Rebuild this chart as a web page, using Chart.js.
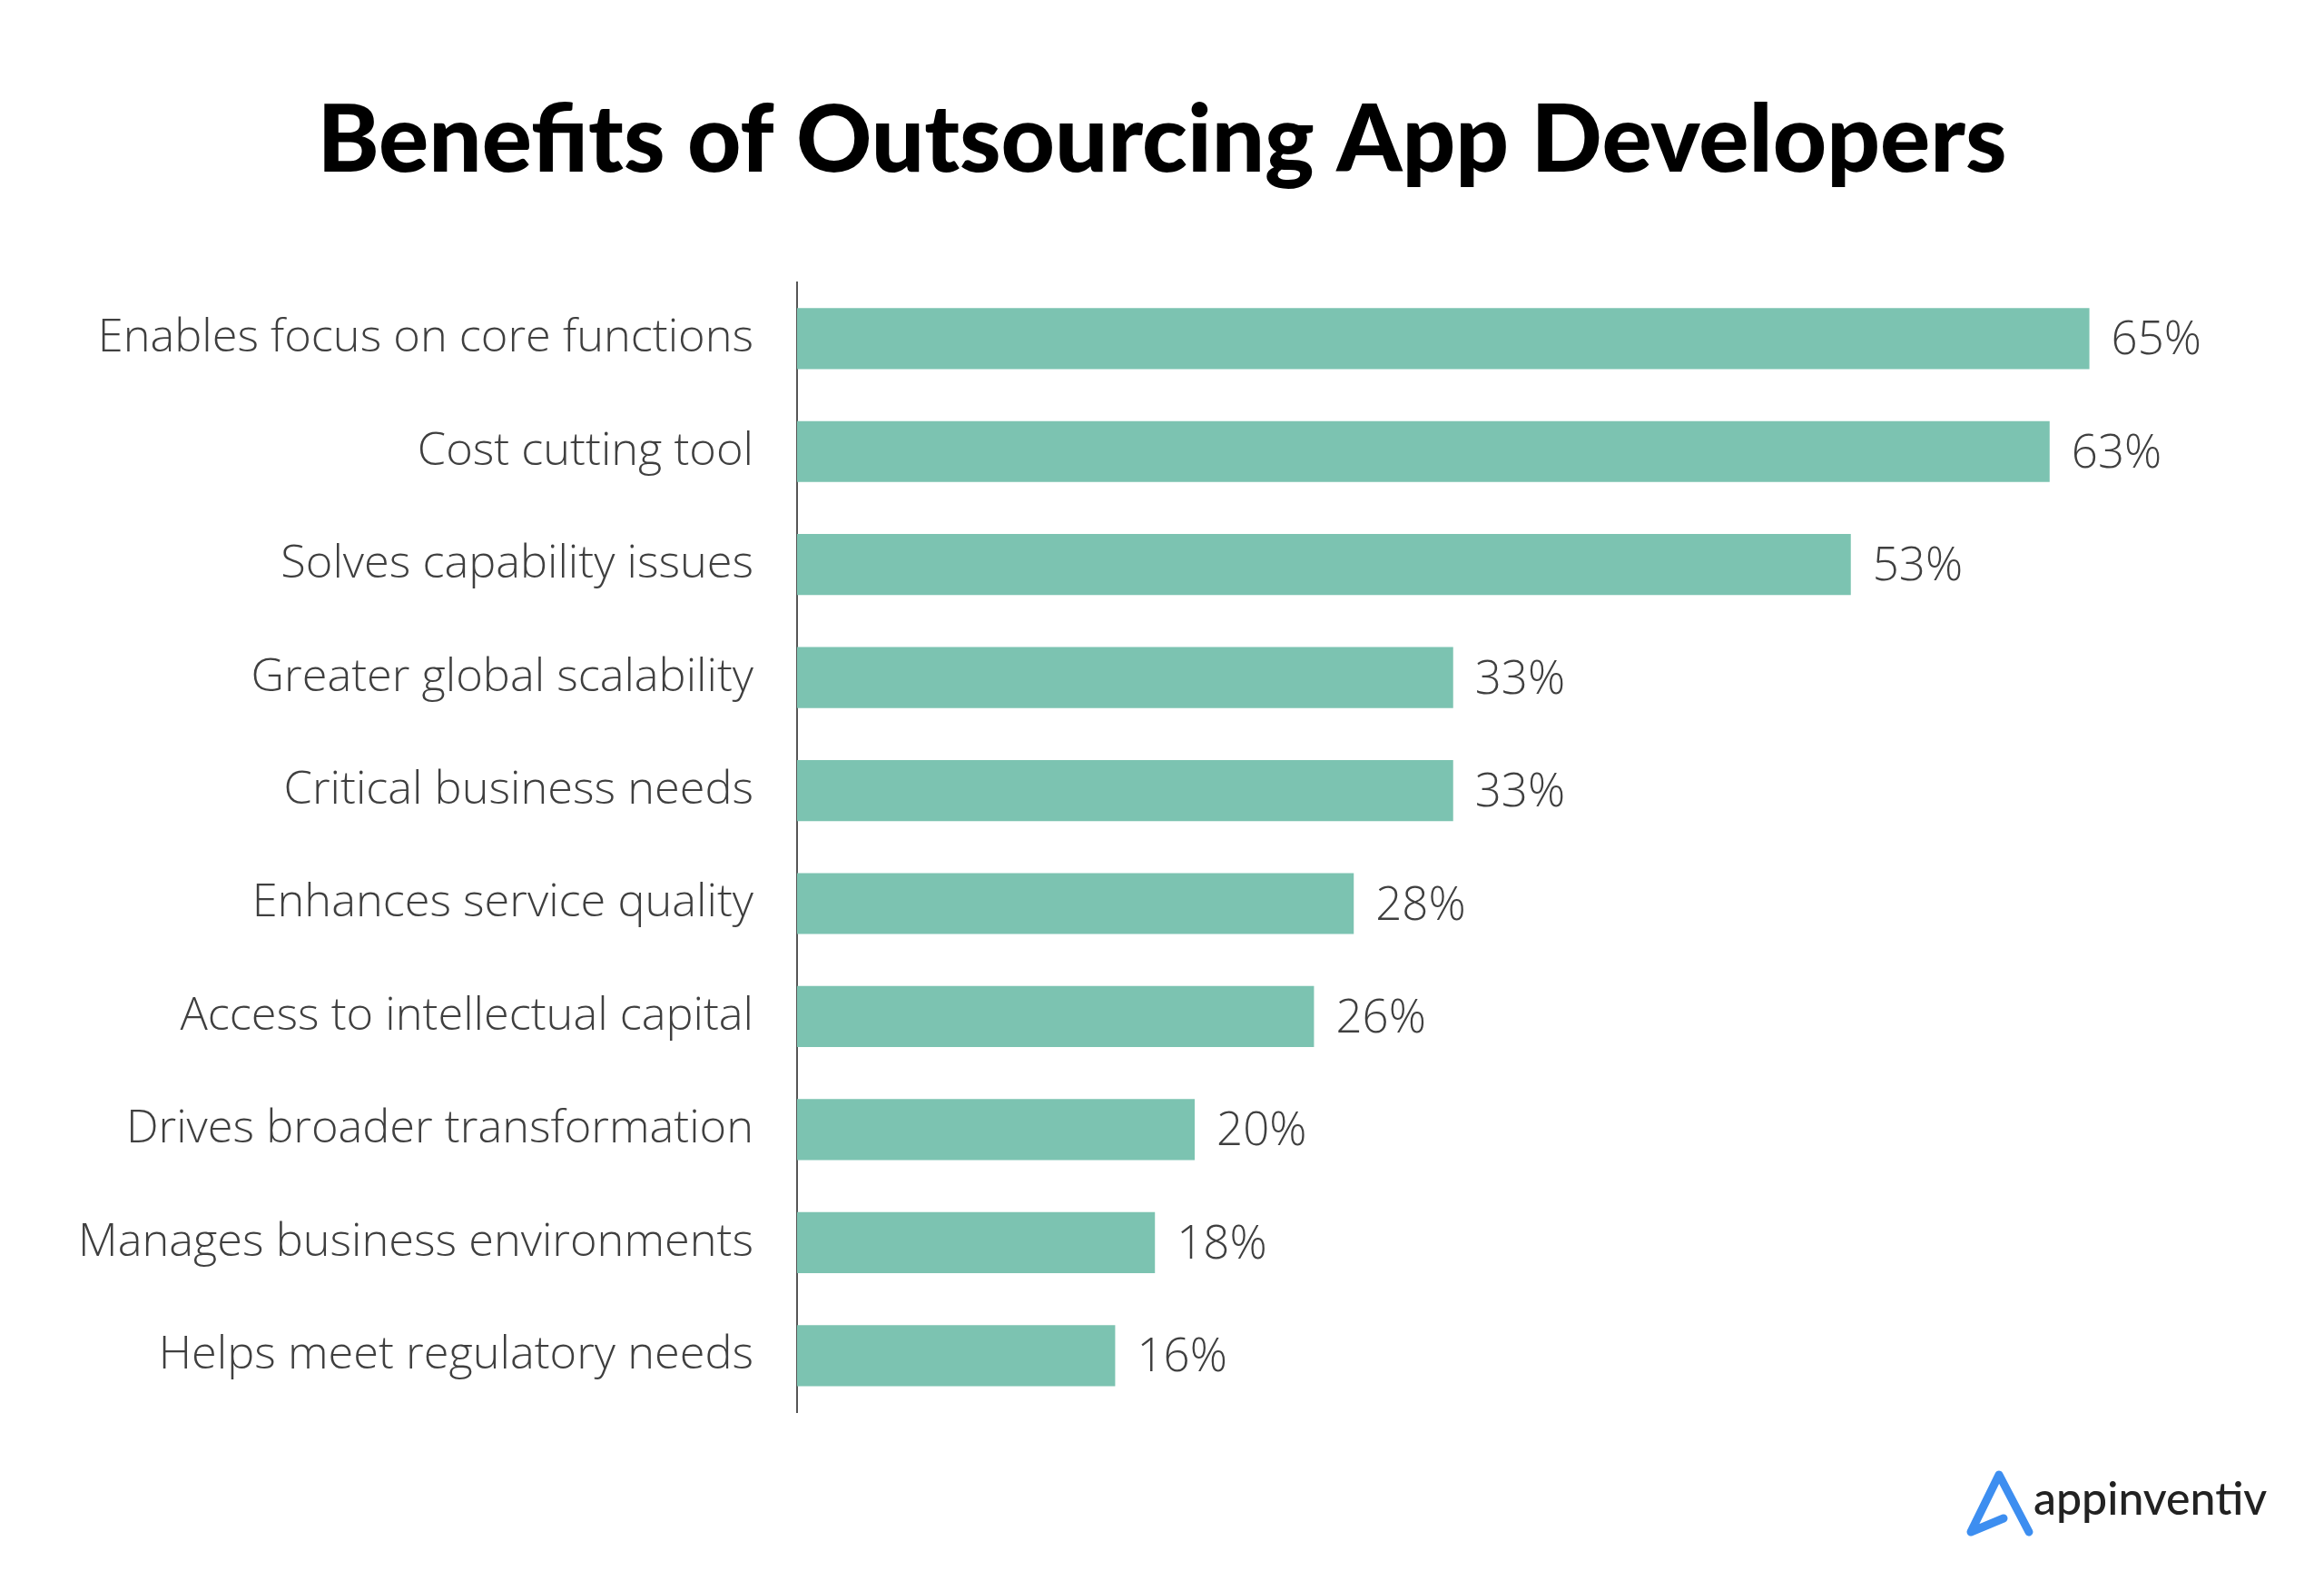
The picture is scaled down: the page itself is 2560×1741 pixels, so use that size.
<!DOCTYPE html>
<html>
<head>
<meta charset="utf-8">
<script src="https://cdn.jsdelivr.net/npm/chart.js@4.4.1/dist/chart.umd.min.js"></script>
<style>
  html, body { margin: 0; padding: 0; background: #ffffff; }
  #wrap { width: 2560px; height: 1741px; }
</style>
</head>
<body>
<div id="wrap"><canvas id="c" width="2560" height="1741"></canvas></div>
<script>
const titleText = 'Benefits of Outsourcing App Developers';
const categories = [
  'Enables focus on core functions',
  'Cost cutting tool',
  'Solves capability issues',
  'Greater global scalability',
  'Critical business needs',
  'Enhances service quality',
  'Access to intellectual capital',
  'Drives broader transformation',
  'Manages business environments',
  'Helps meet regulatory needs'
];
const values = [65, 63, 53, 33, 33, 28, 26, 20, 18, 16];
const valueLabels = ['65%', '63%', '53%', '33%', '33%', '28%', '26%', '20%', '18%', '16%'];
const brandText = 'appinventiv';

const valueLabelPlugin = {
  id: 'valueLabels',
  afterDatasetsDraw(chart) {
    const ctx = chart.ctx;
    const meta = chart.getDatasetMeta(0);
    ctx.save();
    ctx.font = '300 51px "Open Sans"';
    ctx.fillStyle = '#3f3f3f';
    ctx.textAlign = 'left';
    ctx.textBaseline = 'middle';
    meta.data.forEach((bar, i) => {
      ctx.fillText(valueLabels[i], bar.x + 24, bar.y + 3);
    });
    ctx.restore();
  }
};

const brandPlugin = {
  id: 'brand',
  afterDraw(chart) {
    const ctx = chart.ctx;
    ctx.save();
    ctx.strokeStyle = '#3d8ef0';
    ctx.lineWidth = 9;
    ctx.lineCap = 'round';
    ctx.lineJoin = 'round';
    ctx.beginPath();
    ctx.moveTo(2207, 1672);
    ctx.lineTo(2171, 1687);
    ctx.lineTo(2202, 1624);
    ctx.lineTo(2235, 1687);
    ctx.stroke();
    ctx.font = '500 50px Lato';
    ctx.fillStyle = '#222222';
    ctx.textAlign = 'left';
    ctx.textBaseline = 'alphabetic';
    ctx.fillText(brandText, 2240, 1668);
    ctx.restore();
  }
};

new Chart(document.getElementById('c'), {
  type: 'bar',
  data: {
    labels: categories,
    datasets: [{
      data: values,
      backgroundColor: '#7cc3b1',
      borderWidth: 0,
      barPercentage: 0.54,
      categoryPercentage: 1.0
    }]
  },
  options: {
    indexAxis: 'y',
    responsive: false,
    animation: false,
    devicePixelRatio: 1,
    layout: { padding: { top: 0, right: 0, bottom: 186, left: 0 } },
    plugins: {
      legend: { display: false },
      tooltip: { enabled: false },
      title: {
        display: true,
        text: titleText,
        color: '#000000',
        font: { family: 'Lato', weight: '900', size: 103, lineHeight: 1.2 },
        padding: { top: 94, bottom: 93 }
      }
    },
    scales: {
      x: { display: false, min: 0, max: 76.8 },
      y: {
        grid: { display: false, drawTicks: false },
        border: { display: true, color: '#555555', width: 2 },
        ticks: {
          color: '#3f3f3f',
          font: { family: '"Open Sans"', weight: '300', size: 50.5 },
          padding: 48
        },
        afterFit(scale) { scale.width = 878; }
      }
    }
  },
  plugins: [valueLabelPlugin, brandPlugin]
});
</script>
</body>
</html>
